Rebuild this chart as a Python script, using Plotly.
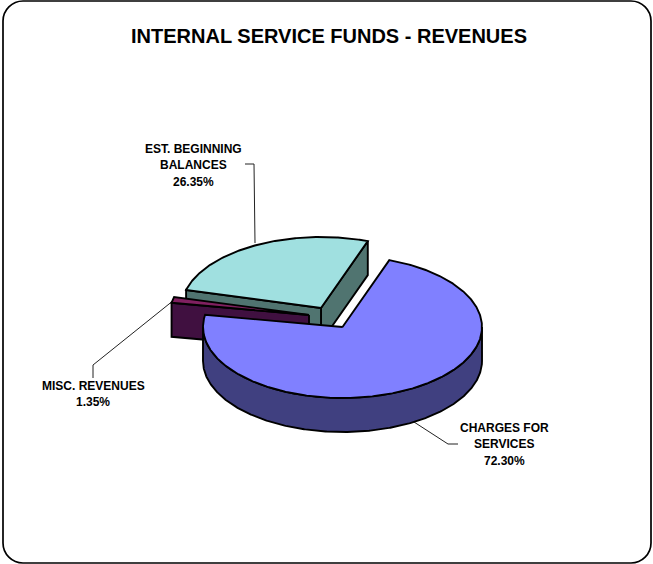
import numpy as np
import plotly.graph_objects as go

# Chart data
categories = ["CHARGES FOR SERVICES", "MISC. REVENUES", "EST. BEGINNING BALANCES"]
shares = [72.30, 1.35, 26.35]
label_lines = [["CHARGES FOR", "SERVICES"], ["MISC. REVENUES"], ["EST. BEGINNING", "BALANCES"]]

# Styling per slice
top_colors = ["#8080ff", "#802060", "#a0e0e0"]
side_colors = ["#404080", "#401040", "#507470"]

# Pie projection, in page pixels
W, H = 653, 564
RX, RY, DEPTH = 139.5, 71, 34
START = 19.6
apexes = [(342.5, 327), (309, 315), (321, 308)]
label_x = [504, 93, 193]
label_y = [427.5, 385.5, 148.5]
leaders = [
    ([414, 448, 458], [422, 444, 444]),
    ([174, 93, 93], [300, 365, 378]),
    ([255, 254, 245], [243, 164, 164]),
]
LINE_GAP = 16.7


def rim(apex, a0, a1):
    """Points along the elliptical rim between two clock angles in degrees."""
    n = max(2, int(abs(a1 - a0)) * 2 + 1)
    t = np.radians(np.linspace(a0, a1, n))
    return apex[0] + RX * np.sin(t), apex[1] - RY * np.cos(t)


def polygon(x, y, color, lw=1.9):
    return go.Scatter(
        x=list(x), y=list(y), mode="lines", fill="toself", fillcolor=color,
        line=dict(color="black", width=lw), hoverinfo="skip", showlegend=False,
    )


def cut_face(apex, angle, color):
    """Flat radial wall of a slice at the given angle."""
    rx, ry = rim(apex, angle, angle)
    px, py = rx[0], ry[0]
    return polygon(
        [apex[0], px, px, apex[0], apex[0]],
        [apex[1], py, py + DEPTH, apex[1] + DEPTH, apex[1]],
        color,
    )


fig = go.Figure()

# Leader lines sit underneath the slices
for lx, ly in leaders:
    fig.add_trace(go.Scatter(x=lx, y=ly, mode="lines", line=dict(color="#222", width=1),
                             hoverinfo="skip", showlegend=False))

# Slice angle ranges, accumulated from the shares
spans = []
a = START
for s in shares:
    spans.append((a, a + s * 3.6))
    a += s * 3.6

# Painter's order: back slice first, the large front slice last
for i in [2, 1, 0]:
    a0, a1 = spans[i]
    apex = apexes[i]
    if i == 2:
        fig.add_trace(cut_face(apex, a1, side_colors[i]))
        fig.add_trace(cut_face(apex, a0, side_colors[i]))
    if i == 1:
        fig.add_trace(cut_face(apex, a0, side_colors[i]))
    if i == 0:
        # Outer wall: only the front half of the rim is visible
        wx, wy = rim(apex, 90, 270)
        fig.add_trace(polygon(
            np.r_[wx, wx[::-1], wx[0]], np.r_[wy, wy[::-1] + DEPTH, wy[0]], side_colors[i]
        ))
    tx, ty = rim(apex, a0, a1)
    fig.add_trace(polygon(
        np.r_[apex[0], tx, apex[0]], np.r_[apex[1], ty, apex[1]], top_colors[i]
    ))

# Slice labels, one annotation per text line for even leading
for lines, share, x0, y0 in zip(label_lines, shares, label_x, label_y):
    for k, text in enumerate(lines + [f"{share:.2f}%"]):
        fig.add_annotation(
            x=x0, y=y0 + k * LINE_GAP, text=f"<b>{text}</b>", showarrow=False,
            xanchor="center", yanchor="middle",
            font=dict(family="Liberation Sans", size=12, color="black"),
        )

# Rounded outer frame
L, T, R, B, C = 3, 1, 651, 563, 20
K = C * 0.45
frame = (
    f"M {L + C} {T} L {R - C} {T} C {R - K} {T} {R} {T + K} {R} {T + C} "
    f"L {R} {B - C} C {R} {B - K} {R - K} {B} {R - C} {B} "
    f"L {L + C} {B} C {L + K} {B} {L} {B - K} {L} {B - C} "
    f"L {L} {T + C} C {L} {T + K} {L + K} {T} {L + C} {T} Z"
)
fig.add_shape(type="path", path=frame, xref="x", yref="y", line=dict(color="black", width=1.7), layer="above")

fig.update_layout(
    width=W, height=H, margin=dict(l=0, r=0, t=0, b=0),
    paper_bgcolor="white", plot_bgcolor="white", showlegend=False,
    title=dict(
        text="<b>INTERNAL SERVICE FUNDS - REVENUES</b>", x=329 / W, xanchor="center",
        y=1 - 36 / H, yanchor="middle",
        font=dict(family="Liberation Sans", size=20, color="black"),
    ),
    xaxis=dict(range=[0, W], visible=False, fixedrange=True),
    yaxis=dict(range=[H, 0], visible=False, fixedrange=True),
)

fig.write_html("out.html", config=dict(displayModeBar=False))
